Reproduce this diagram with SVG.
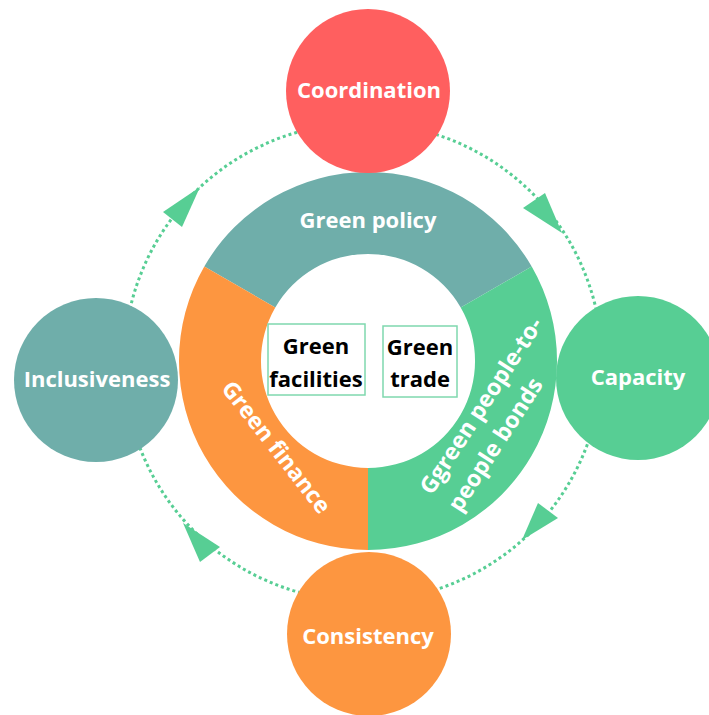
<svg xmlns="http://www.w3.org/2000/svg" width="709" height="715" viewBox="0 0 709 715">
<style>
.lbl{font-family:"Open Sans","Liberation Sans",sans-serif;font-weight:bold;font-size:22px;fill:#fff;text-anchor:middle}
.blk{font-family:"Open Sans","Liberation Sans",sans-serif;font-weight:bold;font-size:22px;fill:#000;text-anchor:middle}
.dot{fill:none;stroke:#57CE94;stroke-width:3;stroke-dasharray:3 3}
.arr{fill:#57CE94}
.box{fill:#fff;stroke:#7FD8AE;stroke-width:1.5}
</style>
<rect width="709" height="715" fill="#fff"/>
<g id="connectors">
<circle class="dot" cx="363" cy="362" r="239"/>
<polygon class="arr" points="562,233 523,208 545,193"/>
<polygon class="arr" points="522,540 538,503 558,518"/>
<polygon class="arr" points="183,523 220,547 200,562"/>
<polygon class="arr" points="200,187 163,212 182,227"/>
</g>
<g id="ring-policy">
<path d="M204.3 266.5 A189 189 0 0 1 531.7 266.5 L460.7 307.5 A107 107 0 0 0 275.3 307.5 Z" fill="#6FAEAA"/>
<text class="lbl" x="368" y="228">Green policy</text>
</g>
<g id="ring-people">
<path d="M531.7 266.5 A189 189 0 0 1 368 550 L368 468 A107 107 0 0 0 460.7 307.5 Z" fill="#57CE94"/>
<g transform="translate(432,496) rotate(-57)">
<text class="lbl" x="0" y="0" style="text-anchor:start;font-size:23px">Ggreen people-to-</text>
<text class="lbl" x="1" y="33" style="text-anchor:start;font-size:23px">people bonds</text>
</g>
</g>
<g id="ring-finance">
<path d="M368 550 A189 189 0 0 1 204.3 266.5 L275.3 307.5 A107 107 0 0 0 368 468 Z" fill="#FD9640"/>
<text class="lbl" transform="translate(270,452) rotate(52)" x="0" y="0" style="font-size:23px">Green finance</text>
</g>
<g id="facilities">
<rect class="box" x="268" y="324" width="97" height="71"/>
<text class="blk" x="316" y="354">Green</text>
<text class="blk" x="316" y="387">facilities</text>
</g>
<g id="trade">
<rect class="box" x="383" y="326" width="74" height="71"/>
<text class="blk" x="420" y="355">Green</text>
<text class="blk" x="420" y="387">trade</text>
</g>
<g id="coordination">
<circle cx="368" cy="91" r="82" fill="#FF5F5F"/>
<text class="lbl" x="369" y="98">Coordination</text>
</g>
<g id="capacity">
<circle cx="638" cy="378" r="82" fill="#57CE94"/>
<text class="lbl" x="638" y="385">Capacity</text>
</g>
<g id="consistency">
<circle cx="369" cy="634" r="82" fill="#FD9640"/>
<text class="lbl" x="368" y="644">Consistency</text>
</g>
<g id="inclusiveness">
<circle cx="96" cy="380" r="82" fill="#6FAEAA"/>
<text class="lbl" x="97" y="387">Inclusiveness</text>
</g>
</svg>
